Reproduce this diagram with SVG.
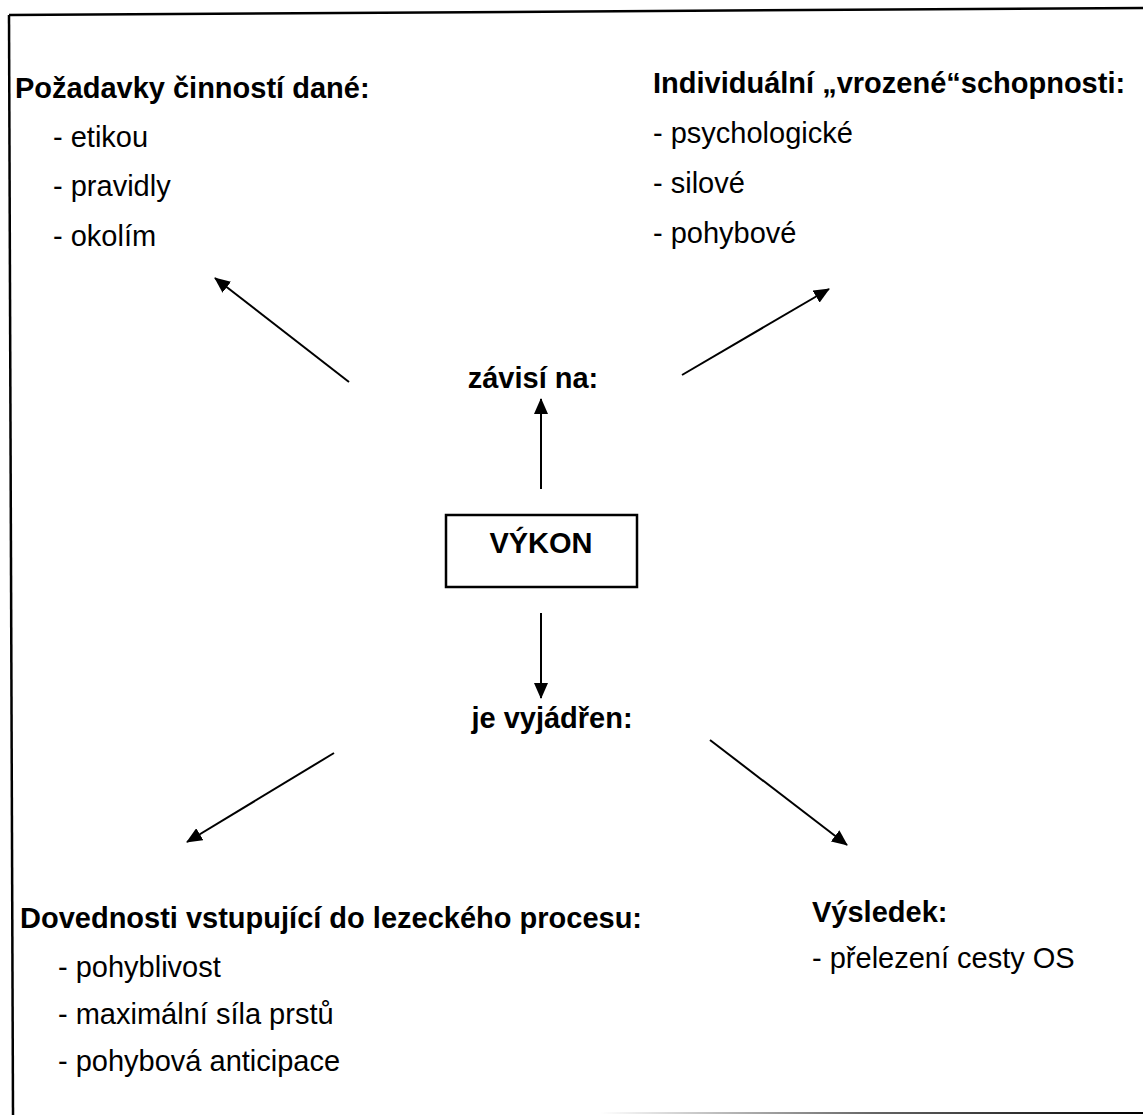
<svg xmlns="http://www.w3.org/2000/svg" width="1143" height="1115" viewBox="0 0 1143 1115">
<style>
.h{font-family:"Liberation Sans",Arial,sans-serif;font-weight:bold;font-size:29px;fill:#000}
.t{font-family:"Liberation Sans",Arial,sans-serif;font-size:29px;fill:#000}
.c{stroke:#000;stroke-width:2;fill:none}
</style>
<defs>
<marker id="ah" viewBox="0 0 16 14" refX="15" refY="7" markerWidth="16" markerHeight="14" markerUnits="userSpaceOnUse" orient="auto">
<path d="M0,0 L16,7 L0,14 z" fill="#000"/>
</marker>
<linearGradient id="fade" x1="600" y1="0" x2="1143" y2="0" gradientUnits="userSpaceOnUse">
<stop offset="0" stop-color="#000" stop-opacity="0"/>
<stop offset="0.5" stop-color="#000" stop-opacity="0.6"/>
<stop offset="1" stop-color="#000" stop-opacity="1"/>
</linearGradient>
</defs>
<rect width="1143" height="1115" fill="#fff"/>
<g id="frame">
<line x1="9" y1="15" x2="1143" y2="8" stroke="#000" stroke-width="2.5"/>
<line x1="9" y1="15" x2="13" y2="1115" stroke="#000" stroke-width="2.5"/>
<line x1="600" y1="1113" x2="1143" y2="1113" stroke="url(#fade)" stroke-width="2"/>
</g>
<g id="connectors">
<line x1="349" y1="382" x2="215" y2="278" class="c" marker-end="url(#ah)"/>
<line x1="682" y1="375" x2="829" y2="289" class="c" marker-end="url(#ah)"/>
<line x1="541" y1="489" x2="541" y2="399" class="c" marker-end="url(#ah)"/>
<line x1="541" y1="613" x2="541" y2="698" class="c" marker-end="url(#ah)"/>
<line x1="334" y1="753" x2="187" y2="842" class="c" marker-end="url(#ah)"/>
<line x1="710" y1="740" x2="847" y2="845" class="c" marker-end="url(#ah)"/>
</g>
<g id="node-vykon">
<rect x="446" y="515" width="191" height="72" fill="#fff" stroke="#000" stroke-width="2.5"/>
<text x="541" y="553" class="h" text-anchor="middle">VÝKON</text>
</g>
<g id="node-zavisi">
<text x="533" y="388" class="h" text-anchor="middle">závisí na:</text>
</g>
<g id="node-vyjadren">
<text x="552" y="728" class="h" text-anchor="middle">je vyjádřen:</text>
</g>
<g id="node-pozadavky">
<text x="15" y="98" class="h">Požadavky činností dané:</text>
<text x="53" y="147" class="t">- etikou</text>
<text x="53" y="196" class="t">- pravidly</text>
<text x="53" y="246" class="t">- okolím</text>
</g>
<g id="node-individualni">
<text x="653" y="93" class="h">Individuální „vrozené“schopnosti:</text>
<text x="653" y="143" class="t">- psychologické</text>
<text x="653" y="193" class="t">- silové</text>
<text x="653" y="243" class="t">- pohybové</text>
</g>
<g id="node-dovednosti">
<text x="20" y="928" class="h">Dovednosti vstupující do lezeckého procesu:</text>
<text x="58" y="977" class="t">- pohyblivost</text>
<text x="58" y="1024" class="t">- maximální síla prstů</text>
<text x="58" y="1071" class="t">- pohybová anticipace</text>
</g>
<g id="node-vysledek">
<text x="812" y="922" class="h">Výsledek:</text>
<text x="812" y="968" class="t">- přelezení cesty OS</text>
</g>
</svg>
